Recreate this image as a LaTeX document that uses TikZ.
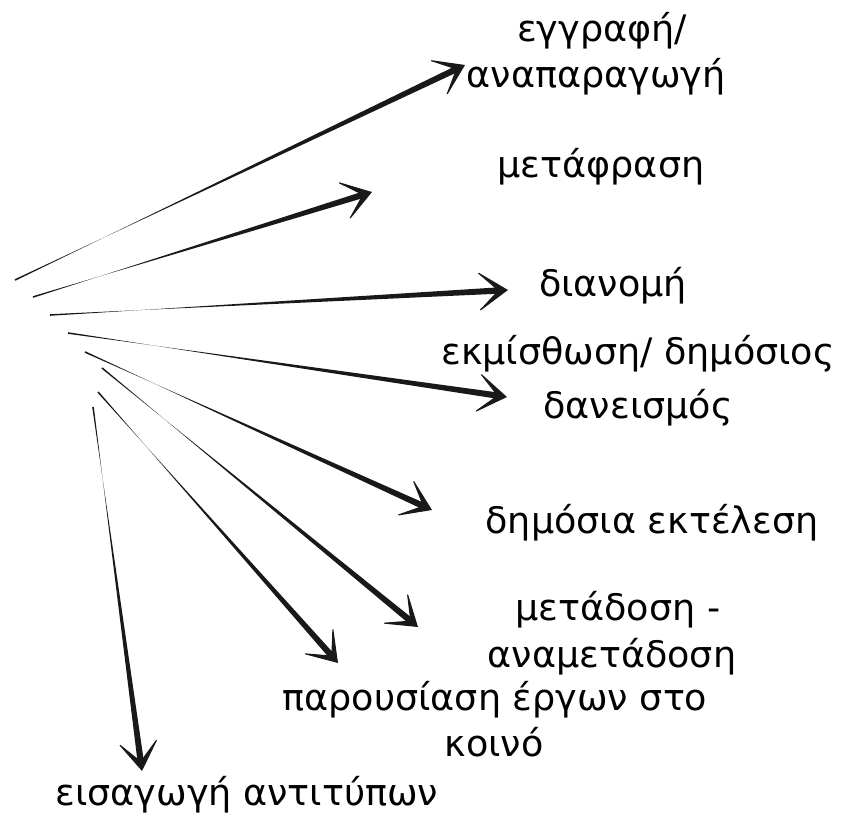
\documentclass[tikz,border=0pt]{standalone}
\usepackage{fontspec}
\usetikzlibrary{arrows.meta,calc}
\newfontfamily\djfont{DejaVu Sans}
\tikzset{
  lbl/.style={anchor=base,inner sep=0pt,font=\djfont\fontsize{36.5}{42}\selectfont,text=black},
  head/.style={-{Stealth[length=33pt,width=44pt,inset=23pt]},line width=1pt,black!90},
}
\newcommand{\sketcharrow}[2]{%
  \fill[black!90] ($(#1)!0.8pt!90:(#2)$) -- ($(#2)!6pt!(#1)!3.2pt!90:(#1)$) -- ($(#2)!6pt!(#1)!3.2pt!-90:(#1)$) -- ($(#1)!0.8pt!-90:(#2)$) -- cycle;
  \draw[head] ($(#2)!14pt!(#1)$) -- (#2);
}
\begin{document}
\begin{tikzpicture}[x=1pt,y=-1pt]
\fill[white] (0,0) rectangle (849,818);
\useasboundingbox (0,0) rectangle (849,818);
% start points
\coordinate (s1) at (15,280);
\coordinate (s2) at (33,297);
\coordinate (s3) at (50,315);
\coordinate (s4) at (68,333);
\coordinate (s5) at (85,352);
\coordinate (s6) at (102,368);
\coordinate (s7) at (98,392);
\coordinate (s8) at (93,407);
% tips
\coordinate (t1) at (465,65);
\coordinate (t2) at (372,192);
\coordinate (t3) at (508,290);
\coordinate (t4) at (507,397);
\coordinate (t5) at (432,510);
\coordinate (t6) at (418,627);
\coordinate (t7) at (338,663);
\coordinate (t8) at (142,771);
% labels
\node[lbl] (l1a) at (602,42) {εγγραφή/};
\node[lbl] (l1b) at (596,88) {αναπαραγωγή};
\node[lbl] (l2) at (601,178) {μετάφραση};
\node[lbl] (l3) at (613,297) {διανομή};
\node[lbl] (l4a) at (638,364) {εκμίσθωση/ δημόσιος};
\node[lbl] (l4b) at (638,418) {δανεισμός};
\node[lbl] (l5) at (652,533) {δημόσια εκτέλεση};
\node[lbl] (l6a) at (618,620) {μετάδοση -};
\node[lbl] (l6b) at (612,667) {αναμετάδοση};
\node[lbl] (l7a) at (495,710) {παρουσίαση έργων στο};
\node[lbl] (l7b) at (494,756) {κοινό};
\node[lbl] (l8) at (247,805) {εισαγωγή αντιτύπων};
% arrows
\sketcharrow{s1}{t1}
\sketcharrow{s2}{t2}
\sketcharrow{s3}{t3}
\sketcharrow{s4}{t4}
\sketcharrow{s5}{t5}
\sketcharrow{s6}{t6}
\sketcharrow{s7}{t7}
\sketcharrow{s8}{t8}
\end{tikzpicture}
\end{document}
